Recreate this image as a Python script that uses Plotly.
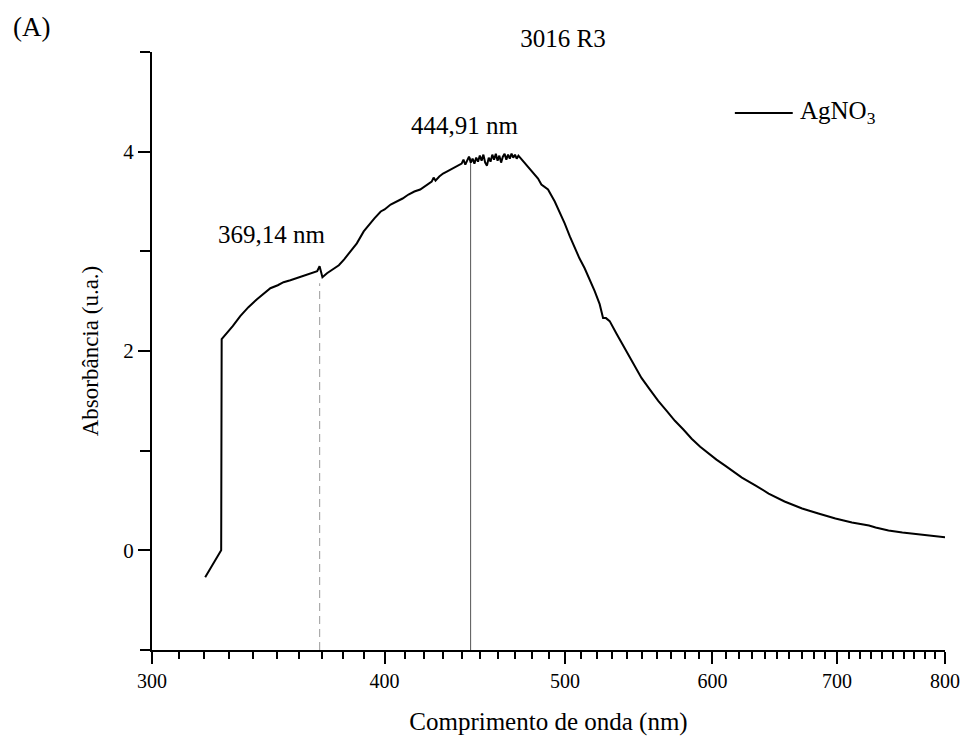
import math
import plotly.graph_objects as go

# ---- data ----
wavelength = [
    320.4, 322.0, 324.0, 325.5, 326.8, 327.0, 329.1, 331.5, 334.6, 338.0,
    341.6, 344.5, 347.3, 350.5, 353.0, 356.0, 358.5, 361.0, 363.5, 366.0,
    368.0, 369.1, 369.8, 370.4, 372.5, 375.6, 378.0, 380.5, 383.6, 386.5,
    389.8, 392.0, 395.0, 398.1, 400.0, 403.0, 406.0, 409.0, 412.0, 415.0,
    418.0, 421.0, 424.0, 425.0, 426.0, 428.0, 430.0, 432.0, 434.0, 436.0,
    438.0, 440.0, 441.0, 442.0, 443.0, 444.0, 445.0, 446.0, 447.0, 448.0,
    449.0, 450.0, 451.0, 452.0, 453.0, 454.0, 455.0, 456.0, 457.0, 458.0,
    459.0, 460.0, 461.0, 462.0, 463.0, 464.0, 465.0, 466.0, 467.0, 468.0,
    469.0, 470.0, 471.0, 472.0, 473.0, 474.0, 475.0, 477.0, 479.0, 481.0,
    483.6, 485.6, 489.6, 493.7, 496.5, 499.8, 503.0, 506.0, 509.0, 512.3,
    515.5, 518.7, 521.9, 523.0, 524.1, 526.0, 528.4, 533.0, 538.4, 544.0,
    549.6, 555.0, 561.1, 567.0, 572.8, 579.0, 584.8, 591.0, 597.1, 603.0,
    609.5, 616.0, 622.3, 633.0, 643.2, 656.0, 670.4, 684.0, 698.6, 713.0,
    728.2, 734.2, 746.0, 758.9, 775.0, 790.9, 800.0,
]
absorbance = [
    -0.27, -0.20, -0.12, -0.05, 0.00, 2.12, 2.18, 2.25, 2.35, 2.44,
    2.52, 2.58, 2.63, 2.66, 2.69, 2.71, 2.73, 2.75, 2.77, 2.79,
    2.80, 2.85, 2.79, 2.74, 2.78, 2.83, 2.86, 2.92, 3.00, 3.08,
    3.20, 3.26, 3.33, 3.40, 3.42, 3.47, 3.50, 3.53, 3.57, 3.60,
    3.62, 3.66, 3.70, 3.74, 3.71, 3.75, 3.78, 3.80, 3.82, 3.84,
    3.86, 3.88, 3.92, 3.87, 3.91, 3.95, 3.89, 3.93, 3.88, 3.94,
    3.90, 3.96, 3.91, 3.97, 3.89, 3.86, 3.94, 3.90, 3.97, 3.92,
    3.98, 3.91, 3.96, 3.89, 3.95, 3.98, 3.92, 3.97, 3.93, 3.98,
    3.94, 3.97, 3.93, 3.96, 3.94, 3.92, 3.90, 3.86, 3.82, 3.78,
    3.73, 3.67, 3.62, 3.50, 3.40, 3.28, 3.15, 3.03, 2.93, 2.83,
    2.72, 2.60, 2.47, 2.40, 2.33, 2.33, 2.30, 2.17, 2.03, 1.88,
    1.73, 1.62, 1.50, 1.40, 1.30, 1.21, 1.12, 1.04, 0.97, 0.91,
    0.85, 0.79, 0.73, 0.65, 0.57, 0.49, 0.42, 0.37, 0.32, 0.28,
    0.25, 0.23, 0.20, 0.18, 0.16, 0.14, 0.13,
]

peak_wl = [369.14, 444.91]
peak_top = [2.68, 3.94]
peak_labels = ["369,14 nm", "444,91 nm"]
peak_label_pos = [(348.1, 3.17), (442.0, 4.26)]

x_major = [300, 400, 500, 600, 700, 800]
x_minor = [v for v in range(310, 800, 10) if v % 100 != 0]
y_major = [0, 2, 4]
y_minor = [-1, 1, 3, 5]

FONT = "Liberation Serif, Times New Roman, serif"

fig = go.Figure()

# reference lines
fig.add_trace(go.Scatter(
    x=[peak_wl[0], peak_wl[0]], y=[-1, peak_top[0]], mode="lines",
    line=dict(color="#9a9a9a", width=1, dash="8px,5px"), showlegend=False,
    hoverinfo="skip"))
fig.add_trace(go.Scatter(
    x=[peak_wl[1], peak_wl[1]], y=[-1, peak_top[1]], mode="lines",
    line=dict(color="#555555", width=1), showlegend=False, hoverinfo="skip"))

fig.add_trace(go.Scatter(
    x=wavelength, y=absorbance, mode="lines", name="AgNO<sub>3</sub>",
    line=dict(color="black", width=2), showlegend=False))

for (lx, ly), txt in zip(peak_label_pos, peak_labels):
    fig.add_annotation(x=math.log10(lx), y=ly, text=txt, showarrow=False,
                       xref="x", yref="y", font=dict(family=FONT, size=25, color="black"))

# legend (drawn)
fig.add_shape(type="line", xref="paper", yref="paper", x0=0.735, x1=0.808,
              y0=0.898, y1=0.898, line=dict(color="black", width=2))
fig.add_annotation(xref="paper", yref="paper", x=0.814, y=0.898, xanchor="left",
                   yanchor="middle", text="AgNO<sub>3</sub>", showarrow=False,
                   font=dict(family=FONT, size=25, color="black"))

# panel label
fig.add_annotation(xref="paper", yref="paper", x=-0.178, y=1.042, xanchor="left",
                   yanchor="middle", text="(A)", showarrow=False,
                   font=dict(family=FONT, size=27, color="black"))

fig.update_layout(
    width=963, height=738,
    margin=dict(l=152, r=18, t=52, b=88),
    paper_bgcolor="white", plot_bgcolor="white",
    font=dict(family=FONT, color="black"),
    title=dict(text="3016 R3", x=563 / 963, xanchor="center", y=1 - 38 / 738,
               yanchor="middle", font=dict(family=FONT, size=25, color="black")),
    showlegend=False,
)

fig.update_xaxes(
    type="log", range=[math.log10(300), math.log10(800)], automargin=False,
    tickmode="array", tickvals=x_major, ticktext=[str(v) for v in x_major],
    ticks="outside", ticklen=12, tickwidth=2, tickcolor="black",
    showline=True, linewidth=2, linecolor="black", showgrid=False, zeroline=False,
    tickfont=dict(family=FONT, size=20, color="black"),
    minor=dict(tickmode="array", tickvals=x_minor, ticks="outside", ticklen=7,
               tickwidth=1.5, tickcolor="black", showgrid=False),
    title=dict(text="Comprimento de onda (nm)", standoff=21,
               font=dict(family=FONT, size=25, color="black")),
)
fig.update_yaxes(
    range=[-1, 5], tickmode="array", tickvals=y_major, automargin=False,
    ticks="outside", ticklen=12, tickwidth=2, tickcolor="black",
    showline=True, linewidth=2, linecolor="black", showgrid=False, zeroline=False,
    tickfont=dict(family=FONT, size=21, color="black"),
    minor=dict(tickmode="array", tickvals=y_minor, ticks="outside", ticklen=10,
               tickwidth=2, tickcolor="black", showgrid=False),
    title=dict(text="Absorbância (u.a.)", standoff=18,
               font=dict(family=FONT, size=23, color="black")),
)

fig.write_html("out.html")
